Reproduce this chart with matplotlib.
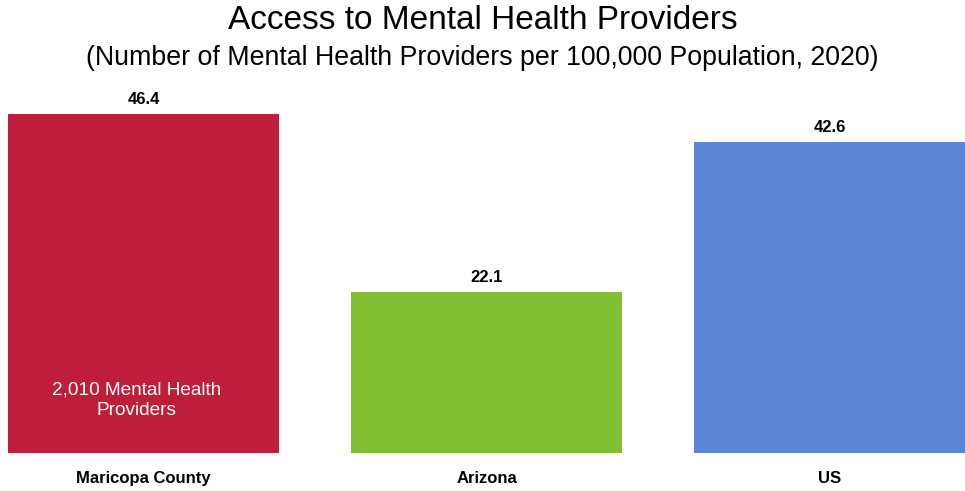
import matplotlib

matplotlib.use("Agg")
import matplotlib.pyplot as plt
from matplotlib import font_manager

categories = ["Maricopa County", "Arizona", "US"]
values = [46.4, 22.1, 42.6]
colors = ["#BE1E39", "#80BF31", "#5B86D6"]
value_labels = ["46.4", "22.1", "42.6"]
note_text = "2,010 Mental Health\nProviders"

installed = {f.name for f in font_manager.fontManager.ttflist}
narrow = "Liberation Sans Narrow" if "Liberation Sans Narrow" in installed else "Liberation Sans"

plt.rcParams["font.family"] = ["Liberation Sans", "DejaVu Sans"]

fig = plt.figure(figsize=(9.65, 4.91), dpi=100)
ax = fig.add_axes([8 / 965, 38 / 491, 957 / 965, 365 / 491])

x = range(len(categories))
bars = ax.bar(x, values, width=0.79, color=colors)
ax.set_xlim(-0.395, 2.395)
ax.set_ylim(0, 50)

for bar, label in zip(bars, value_labels):
    ax.annotate(label, (bar.get_x() + bar.get_width() / 2, bar.get_height()),
                xytext=(0, 5), textcoords="offset points", ha="center", va="bottom",
                fontsize=12, fontweight="bold", family=[narrow, "DejaVu Sans"])

ax.text(-0.02, 7.2, note_text, ha="center", va="center", color="white",
        fontsize=13.7, linespacing=1.3)

ax.set_xticks(list(x))
ax.set_xticklabels(categories, fontsize=12, fontweight="bold", family=[narrow, "DejaVu Sans"])
ax.tick_params(axis="x", length=0, pad=13)
ax.set_yticks([])
for spine in ax.spines.values():
    spine.set_visible(False)

fig.text(0.5, 0.958, "Access to Mental Health Providers", ha="center", va="center", fontsize=24)
fig.text(0.5, 0.882, "(Number of Mental Health Providers per 100,000 Population, 2020)",
         ha="center", va="center", fontsize=19.3)

fig.savefig("out.png", dpi=100)
